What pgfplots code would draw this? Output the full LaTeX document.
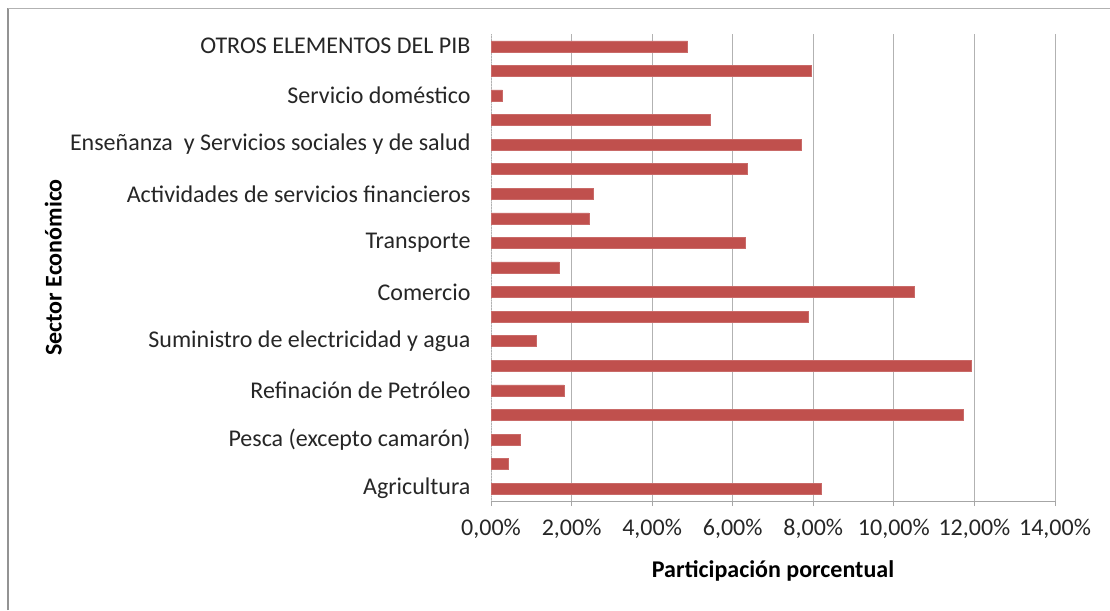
\documentclass[border=0pt]{standalone}
\usepackage{pgfplots}
\pgfplotsset{compat=1.18}
\usepackage{fontspec}
\setmainfont{Carlito}
\definecolor{barred}{RGB}{192,80,77}
\begin{document}
\begin{tikzpicture}[x=1pt,y=1pt]
\useasboundingbox (0,0) rectangle (1110,610);
\draw[gray!85, line width=2.5pt] (8,0) -- (8,602);
\draw[gray!60, line width=0.8pt] (8,602) -- (1110,602);
\begin{axis}[
  at={(491pt,109pt)}, anchor=south west,
  scale only axis, width=564pt, height=467pt,
  xbar, bar width=11pt,
  xmin=0, xmax=14, ymin=-0.5, ymax=18.5,
  xtick={0,2,...,14},
  xticklabels={{0,00\%},{2,00\%},{4,00\%},{6,00\%},{8,00\%},{10,00\%},{12,00\%},{14,00\%}},
  ytick={0,2,...,18},
  yticklabels={Agricultura,{Pesca (excepto camarón)},{Refinación de Petróleo},{Suministro de electricidad y agua},Comercio,Transporte,{Actividades de servicios financieros},{Enseñanza\ \ y Servicios sociales y de salud},{Servicio doméstico},{OTROS ELEMENTOS DEL PIB}},
  xmajorgrids, major grid style={gray!60, line width=0.9pt},
  axis x line*=bottom, axis y line*=left,
  x axis line style={gray!70, line width=0.8pt, -},
  y axis line style={gray!35, line width=0.8pt, dotted, -},
  xtick style={gray!70, line width=0.8pt},
  ytick style={draw=none},
  tick align=outside, major tick length=5pt,
  ticklabel style={font=\fontsize{24}{28}\selectfont, text=black!85},
  xticklabel style={yshift=-10pt},
  yticklabel style={xshift=-12pt},
  xlabel={Participación porcentual},
  ylabel={Sector Económico},
  label style={font=\bfseries\fontsize{24}{28}\selectfont},
  xlabel style={at={(axis description cs:0.5,0)}, anchor=center, yshift=-70pt},
  ylabel style={at={(axis description cs:-0.776,0.5)}, anchor=center, rotate=0},
  clip=false,
]
\addplot[fill=barred, draw=barred!85!white, line width=0.5pt] coordinates {
(8.19,0) (0.43,1) (0.73,2) (11.71,3) (1.81,4) (11.91,5) (1.13,6) (7.87,7) (10.50,8) (1.69,9)
(6.32,10) (2.43,11) (2.54,12) (6.36,13) (7.70,14) (5.44,15) (0.28,16) (7.96,17) (4.88,18)};
\end{axis}
\end{tikzpicture}
\end{document}
